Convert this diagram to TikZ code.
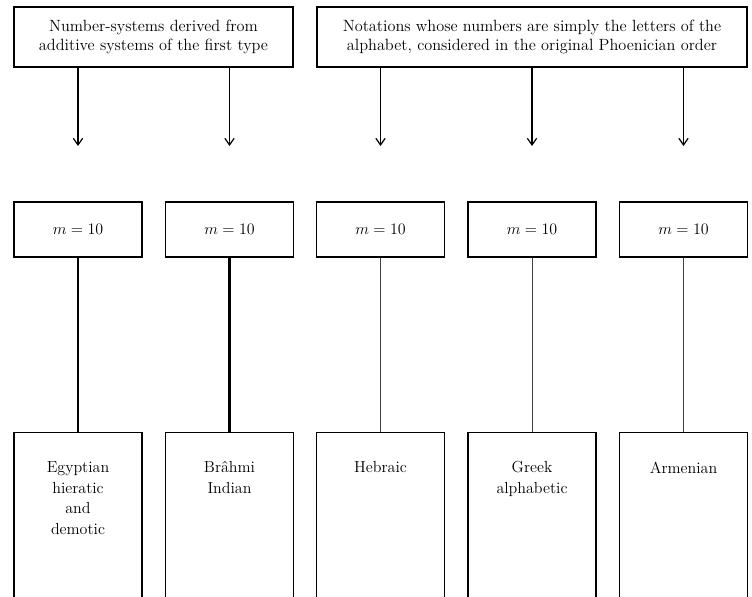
\documentclass[tikz,border=0pt]{standalone}
\usetikzlibrary{positioning, arrows.meta}

\begin{document}
\begin{tikzpicture}[
        x=0.75pt, y=-0.75pt,
        font=\fontsize{12.2}{14.5}\selectfont,
        topbox/.style={draw, line width=0.9pt, rectangle, align=center, minimum height=45pt, inner sep=2pt},
        mbox/.style={draw, line width=0.9pt, rectangle, minimum width=96pt, minimum height=41.25pt},
        lowbox/.style={draw, line width=0.9pt, rectangle, anchor=north, minimum width=96pt, minimum height=126pt},
        lowtext/.style={align=center, anchor=north, inner sep=0pt, font=\fontsize{12}{15.5}\selectfont},
        arrow/.style={-{Straight Barb[length=5pt, width=7pt]}, line width=0.9pt},
        heavy/.style={line width=1.6pt},
        light/.style={line width=0.6pt, black!75}
    ]
    \useasboundingbox (0,0) rectangle (752,596);

    % headings
    \node[topbox, minimum width=209.25pt] (derived) at (153.5,37) {Number-systems derived from\\additive systems of the first type};
    \node[topbox, minimum width=322.5pt] (letters) at (532,37) {Notations whose numbers are simply the letters of the\\alphabet, considered in the original Phoenician order};

    % base boxes
    \node[mbox] (m1) at (78,229.5) {$m = 10$};
    \node[mbox] (m2) at (229.5,229.5) {$m = 10$};
    \node[mbox] (m3) at (380.5,229.5) {$m = 10$};
    \node[mbox] (m4) at (532,229.5) {$m = 10$};
    \node[mbox] (m5) at (683.5,229.5) {$m = 10$};

    % arrow ends
    \coordinate (a1) at (78,146);
    \coordinate (a2) at (229.5,146);
    \coordinate (a3) at (380.5,146);
    \coordinate (a4) at (532,146);
    \coordinate (a5) at (683.5,146);

    % systems
    \node[lowbox] (egypt) at (78,432) {};
    \node[lowbox] (brahmi) at (229.5,432) {};
    \node[lowbox] (hebrew) at (380.5,432) {};
    \node[lowbox] (greek) at (532,432) {};
    \node[lowbox] (armen) at (683.5,432) {};
    \node[lowtext, below=22pt of egypt.north] (egyptT) {Egyptian\\hieratic\\and\\demotic};
    \node[lowtext, below=22pt of brahmi.north] (brahmiT) {Br\^ahmi\\Indian};
    \node[lowtext, below=22pt of hebrew.north] (hebrewT) {Hebraic};
    \node[lowtext, below=22pt of greek.north] (greekT) {Greek\\alphabetic};
    \node[lowtext, below=22pt of armen.north] (armenT) {Armenian};

    \draw[arrow] (a1 |- derived.south) -- (a1);
    \draw[arrow] (a2 |- derived.south) -- (a2);
    \draw[arrow] (a3 |- letters.south) -- (a3);
    \draw[arrow] (a4 |- letters.south) -- (a4);
    \draw[arrow] (a5 |- letters.south) -- (a5);

    \draw[heavy] (m1) -- (egypt);
    \draw[heavy] (m2) -- (brahmi);
    \draw[light] (m3) -- (hebrew);
    \draw[light] (m4) -- (greek);
    \draw[light] (m5) -- (armen);
    \end{tikzpicture}
\end{document}
